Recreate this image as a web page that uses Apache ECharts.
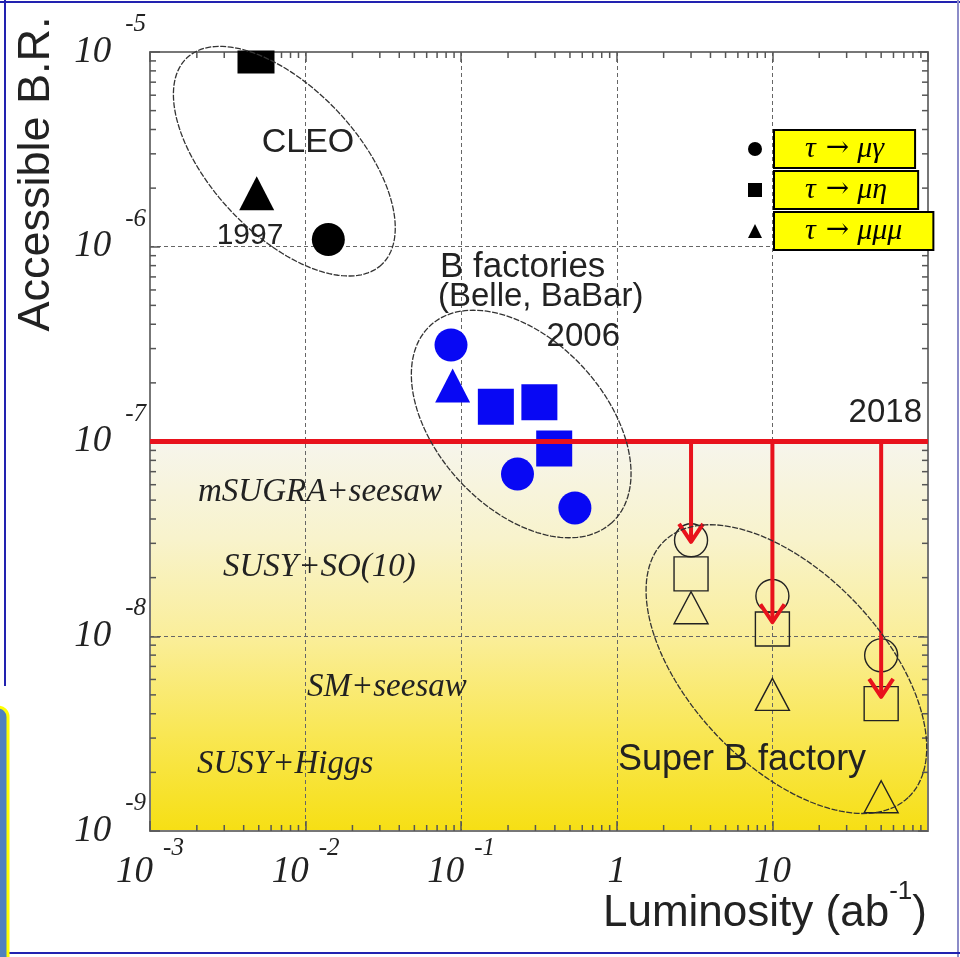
<!DOCTYPE html>
<html><head><meta charset="utf-8">
<script src="https://cdn.jsdelivr.net/npm/echarts@6/dist/echarts.min.js"></script>
<style>html,body{margin:0;padding:0;background:#fff}#c{width:960px;height:957px}</style>
</head><body><div id="c"></div>
<script>
// ---- axes ----
const xTicks = [1e-3, 1e-2, 1e-1, 1, 10, 100];
const yTicks = [1e-9, 1e-8, 1e-7, 1e-6, 1e-5];
const minorMultipliers = [2, 3, 4, 5, 6, 7, 8, 9];

// ---- decay modes (legend) ----
const seriesNames = ['τ → μγ', 'τ → μη', 'τ → μμμ'];

// ---- data: luminosity (ab^-1), accessible branching ratio, experiment ----
const lumiMuGamma = [0.0140, 0.0860, 0.230, 0.538, 3, 10, 50];
const brMuGamma   = [1.09e-6, 3.13e-7, 6.8e-8, 4.56e-8, 3.11e-8, 1.61e-8, 7.98e-9];
const expMuGamma  = ['CLEO', 'Bfac', 'Bfac', 'Bfac', 'SuperB', 'SuperB', 'SuperB'];

const lumiMuEta = [0.0048, 0.167, 0.318, 0.396, 3, 10, 50];
const brMuEta   = [9.66e-6, 1.51e-7, 1.59e-7, 9.2e-8, 2.09e-8, 1.09e-8, 4.51e-9];
const expMuEta  = ['CLEO', 'Bfac', 'Bfac', 'Bfac', 'SuperB', 'SuperB', 'SuperB'];

const lumiMuMuMu = [0.00485, 0.0881, 3, 10, 50];
const brMuMuMu   = [1.88e-6, 1.94e-7, 1.40e-8, 5.03e-9, 1.50e-9];
const expMuMuMu  = ['CLEO', 'Bfac', 'SuperB', 'SuperB', 'SuperB'];

// 2018 limit line and Super B reach arrows
const limit2018 = 1e-7;
const arrowLumi = [3, 10, 50];
const arrowTipBR = [3.05e-8, 1.18e-8, 4.88e-9];

// group ellipse centres (CLEO, B factories, Super B)
const groupCentreLumi = [7.3e-3, 0.243, 12.3];
const groupCentreBR   = [2.75e-6, 1.23e-7, 6.78e-9];

// ---- styling ----
const xMin = xTicks[0], xMax = xTicks[xTicks.length - 1];
const yMin = yTicks[0], yMax = yTicks[yTicks.length - 1];
const RED = '#e8121c';
const expStyle = {
  CLEO:   { color: '#000', opacity: 1 },
  Bfac:   { color: '#0808f4', opacity: 1 },
  SuperB: { color: 'rgba(0,0,0,0)', borderColor: '#222', borderWidth: 1.4, opacity: 1 }
};
const symbolSizes = {
  circle:   { CLEO: 33, Bfac: 33, SuperB: 33 },
  rect:     { CLEO: 37, Bfac: 36, SuperB: 34 },
  triangle: { CLEO: [35, 34], Bfac: [35, 34], SuperB: [34, 32] }
};
const legendIcons = [
  'path://M5,0A5,5,0,1,1,5,10A5,5,0,1,1,5,0Z',
  'path://M0,0L10,0L10,10L0,10Z',
  'path://M5,0L10,10L0,10Z'
];
const ellipseShapes = [[142, 73, 46.7], [134, 84, 47.3], [177, 96, 46.5]]; // semi-axes px, angle deg

function points(lumi, br, exp, symbol) {
  return lumi.map((x, i) => ({
    value: [x, br[i]],
    itemStyle: expStyle[exp[i]],
    symbolSize: symbolSizes[symbol][exp[i]]
  }));
}
function scatter(name, symbol, lumi, br, exp) {
  return {
    name, type: 'scatter', symbol, z: 2,
    itemStyle: { color: '#000', opacity: 1 },
    emphasis: { disabled: true },
    data: points(lumi, br, exp, symbol)
  };
}
function ellipsePts(c, a, b, deg) {
  const t = deg * Math.PI / 180, ct = Math.cos(t), st = Math.sin(t), pts = [];
  for (let i = 0; i < 144; i++) {
    const u = 2 * Math.PI * i / 144, ex = a * Math.cos(u), ey = b * Math.sin(u);
    pts.push([c[0] + ex * ct - ey * st, c[1] + ex * st + ey * ct]);
  }
  return pts;
}

const serif = 'Liberation Serif, DejaVu Serif, serif';
const sans = 'Liberation Sans, Arial, sans-serif';

const chart = echarts.init(document.getElementById('c'), null, { renderer: 'canvas' });
const labelRichY = {
  b: { fontFamily: serif, fontStyle: 'italic', fontSize: 37, lineHeight: 80, color: '#222' },
  s: { fontFamily: serif, fontStyle: 'italic', fontSize: 25, lineHeight: 26, verticalAlign: 'top', color: '#222', padding: [0, 0, 0, 14] }
};
const labelRichX = {
  b: { fontFamily: serif, fontStyle: 'italic', fontSize: 37, lineHeight: 72, color: '#222' },
  s: { fontFamily: serif, fontStyle: 'italic', fontSize: 25, lineHeight: 30, verticalAlign: 'top', color: '#222', padding: [0, 0, 0, 10] }
};
function expOf(v) { return Math.round(Math.log10(v)); }
function legendText(name) {
  const parts = name.split(' ');
  return '{g|' + parts[0] + '}{a|' + parts[1] + '}{g|' + parts[2] + '}';
}

const axisLineStyle = { color: '#777', width: 2 };
const tickStyle = { color: '#555', width: 1.5 };
const splitStyle = { color: '#666', width: 1, type: [4, 3] };

const option = {
  animation: false,
  backgroundColor: '#fff',
  grid: { left: 150, top: 52, width: 778, height: 779, outerBoundsMode: 'none' },
  xAxis: [{
    type: 'log', logBase: 10, min: xMin, max: xMax, position: 'bottom',
    axisLine: { lineStyle: axisLineStyle },
    axisTick: { inside: true, length: 10, lineStyle: tickStyle },
    splitLine: { show: true, lineStyle: splitStyle },
    axisLabel: {
      margin: 5, showMaxLabel: false, rich: labelRichX,
      formatter: v => { const e = expOf(v); return e === 0 ? '{b|1}' : e === 1 ? '{b|10}' : '{b|10}{s|' + e + '}'; }
    }
  }, {
    type: 'log', logBase: 10, min: xMin, max: xMax, position: 'top',
    axisLine: { onZero: false, lineStyle: axisLineStyle },
    axisTick: { inside: true, length: 10, lineStyle: tickStyle },
    axisLabel: { show: false }, splitLine: { show: false }
  }],
  yAxis: [{
    type: 'log', logBase: 10, min: yMin, max: yMax, position: 'left',
    axisLine: { show: true, lineStyle: axisLineStyle },
    axisTick: { show: true, inside: true, length: 10, lineStyle: tickStyle },
    splitLine: { show: true, lineStyle: splitStyle },
    axisLabel: { margin: 4, rich: labelRichY, formatter: v => '{b|10}{s|' + expOf(v) + '}' }
  }, {
    type: 'log', logBase: 10, min: yMin, max: yMax, position: 'right',
    axisLine: { show: true, onZero: false, lineStyle: axisLineStyle },
    axisTick: { show: true, inside: true, length: 10, lineStyle: tickStyle },
    axisLabel: { show: false }, splitLine: { show: false }
  }],
  legend: {
    data: seriesNames.map((n, i) => ({ name: n, icon: legendIcons[i] })),
    orient: 'vertical', left: 743, top: 124,
    itemWidth: 30, itemHeight: 14, itemGap: 1,
    symbolKeepAspect: true,
    selectedMode: false,
    formatter: legendText,
    textStyle: {
      backgroundColor: '#ffff00', borderColor: '#000', borderWidth: 2, padding: [4, 26, 4, 26],
      rich: {
        g: { fontFamily: serif, fontStyle: 'italic', fontSize: 30, lineHeight: 28, color: '#000', padding: [0, 4, 0, 4] },
        a: { fontFamily: 'DejaVu Serif, DejaVu Sans, serif', fontSize: 28, lineHeight: 28, color: '#000', padding: [0, 4, 0, 6] }
      }
    }
  },
  series: [
    {
      type: 'custom', name: 'theory band', z: -1, silent: true, clip: false,
      data: [[xMin, limit2018]],
      renderItem: (params, api) => {
        const p0 = api.coord([xMin, limit2018]), p1 = api.coord([xMax, yMin]);
        return { type: 'rect', shape: { x: p0[0], y: p0[1], width: p1[0] - p0[0], height: p1[1] - p0[1] },
          style: { fill: new echarts.graphic.LinearGradient(0, 0, 0, 1, [
            { offset: 0, color: '#f6f5ec' }, { offset: 0.25, color: '#f8f3cc' },
            { offset: 0.5, color: '#faee9a' }, { offset: 0.75, color: '#f9e754' }, { offset: 1, color: '#f6df14' }]) } };
      }
    },
    {
      type: 'custom', name: 'minor ticks', z: 1, silent: true, clip: false,
      data: [[xMin, yMin]],
      renderItem: (params, api) => {
        const children = [];
        const push = (a, b) => children.push({ type: 'line', shape: { x1: a[0], y1: a[1], x2: b[0], y2: b[1] },
          style: { stroke: '#555', lineWidth: 1.5 } });
        xTicks.slice(0, -1).forEach(d => minorMultipliers.forEach(m => {
          const v = d * m;
          const b = api.coord([v, yMin]); push(b, [b[0], b[1] - 6]);
          const t = api.coord([v, yMax]); push(t, [t[0], t[1] + 6]);
        }));
        yTicks.slice(0, -1).forEach(d => minorMultipliers.forEach(m => {
          const v = d * m;
          const l = api.coord([xMin, v]); push(l, [l[0] + 6, l[1]]);
          const r = api.coord([xMax, v]); push(r, [r[0] - 6, r[1]]);
        }));
        return { type: 'group', children };
      }
    },
    scatter(seriesNames[0], 'circle', lumiMuGamma, brMuGamma, expMuGamma),
    scatter(seriesNames[1], 'rect', lumiMuEta, brMuEta, expMuEta),
    scatter(seriesNames[2], 'triangle', lumiMuMuMu, brMuMuMu, expMuMuMu),
    {
      type: 'line', name: '2018 limit', z: 3, silent: true, symbol: 'none',
      lineStyle: { color: RED, width: 5 },
      data: [[xMin, limit2018], [xMax, limit2018]]
    },
    {
      type: 'custom', name: 'reach arrows', z: 3, silent: true, clip: false,
      data: arrowLumi.map((x, i) => [x, limit2018, arrowTipBR[i]]),
      renderItem: (params, api) => {
        const p0 = api.coord([api.value(0), api.value(1)]), p1 = api.coord([api.value(0), api.value(2)]);
        const st = { stroke: RED, lineWidth: 4, fill: 'none', lineJoin: 'round' };
        return { type: 'group', children: [
          { type: 'line', shape: { x1: p0[0], y1: p0[1], x2: p1[0], y2: p1[1] - 2 }, style: st },
          { type: 'polyline', shape: { points: [[p1[0] - 12, p1[1] - 18], [p1[0], p1[1]], [p1[0] + 12, p1[1] - 18]] }, style: st }
        ] };
      }
    },
    {
      type: 'custom', name: 'groups', z: 5, silent: true, clip: false,
      data: groupCentreLumi.map((x, i) => [x, groupCentreBR[i]]),
      renderItem: (params, api) => {
        const c = api.coord([api.value(0), api.value(1)]);
        const s = ellipseShapes[params.dataIndex];
        return { type: 'polygon', shape: { points: ellipsePts(c, s[0], s[1], s[2]) },
          style: { fill: 'none', stroke: '#333', lineWidth: 1.3, lineDash: [6, 1.5] } };
      }
    }
  ],
  graphic: [
    // hide the part of the clipped CLEO marker above the frame
    { type: 'rect', z: 4, silent: true, shape: { x: 151, y: 6, width: 790, height: 44.5 }, style: { fill: '#fff' } },
    // axis titles
    { type: 'text', z: 6, x: 37, y: 174, rotation: Math.PI / 2,
      style: { text: 'Accessible B.R.', font: '45px ' + sans, fill: '#222', align: 'center', verticalAlign: 'middle' } },
    { type: 'text', z: 6, x: 603, y: 914,
      style: { text: '{t|Luminosity (ab}{s|-1}{t|)}', fill: '#222', verticalAlign: 'middle',
        rich: { t: { fontFamily: sans, fontSize: 44, lineHeight: 70, fill: '#222' },
                s: { fontFamily: sans, fontSize: 26, lineHeight: 24, verticalAlign: 'top', fill: '#222' } } } },
    // group annotations
    { type: 'text', z: 6, x: 308, y: 143, style: { text: 'CLEO', font: '34px ' + sans, fill: '#222', align: 'center', verticalAlign: 'middle' } },
    { type: 'text', z: 6, x: 250, y: 236, style: { text: '1997', font: '30px ' + sans, fill: '#222', align: 'center', verticalAlign: 'middle' } },
    { type: 'text', z: 6, x: 440, y: 267, style: { text: 'B factories', font: '35px ' + sans, fill: '#222', align: 'left', verticalAlign: 'middle' } },
    { type: 'text', z: 6, x: 438, y: 297, style: { text: '(Belle, BaBar)', font: '33px ' + sans, fill: '#222', align: 'left', verticalAlign: 'middle' } },
    { type: 'text', z: 6, x: 620, y: 337, style: { text: '2006', font: '33px ' + sans, fill: '#222', align: 'right', verticalAlign: 'middle' } },
    { type: 'text', z: 6, x: 922, y: 413, style: { text: '2018', font: '33px ' + sans, fill: '#222', align: 'right', verticalAlign: 'middle' } },
    { type: 'text', z: 6, x: 618, y: 760, style: { text: 'Super B factory', font: '36px ' + sans, fill: '#222', align: 'left', verticalAlign: 'middle' } },
    // model annotations
    { type: 'text', z: 6, x: 198, y: 492, style: { text: 'mSUGRA+seesaw', font: 'italic 33px ' + serif, fill: '#222', verticalAlign: 'middle' } },
    { type: 'text', z: 6, x: 223, y: 567, style: { text: 'SUSY+SO(10)', font: 'italic 33px ' + serif, fill: '#222', verticalAlign: 'middle' } },
    { type: 'text', z: 6, x: 307, y: 687, style: { text: 'SM+seesaw', font: 'italic 33px ' + serif, fill: '#222', verticalAlign: 'middle' } },
    { type: 'text', z: 6, x: 197, y: 764, style: { text: 'SUSY+Higgs', font: 'italic 33px ' + serif, fill: '#222', verticalAlign: 'middle' } },
    // slide frame
    { type: 'line', z: 10, silent: true, shape: { x1: 0, y1: 2, x2: 960, y2: 2 }, style: { stroke: '#2222b0', lineWidth: 2 } },
    { type: 'line', z: 10, silent: true, shape: { x1: 5, y1: 0, x2: 5, y2: 686 }, style: { stroke: '#2222b0', lineWidth: 2 } },
    { type: 'line', z: 10, silent: true, shape: { x1: 958, y1: 0, x2: 958, y2: 957 }, style: { stroke: '#8c8cc8', lineWidth: 2 } },
    { type: 'line', z: 10, silent: true, shape: { x1: 0, y1: 953, x2: 960, y2: 953 }, style: { stroke: '#2222b0', lineWidth: 2 } },
    { type: 'rect', z: 10, silent: true, shape: { x: -12, y: 707, width: 20, height: 260, r: 10 }, style: { fill: '#4f81bd', stroke: '#ffff00', lineWidth: 3 } }
  ]
};
chart.setOption(option);
</script>
</body></html>
